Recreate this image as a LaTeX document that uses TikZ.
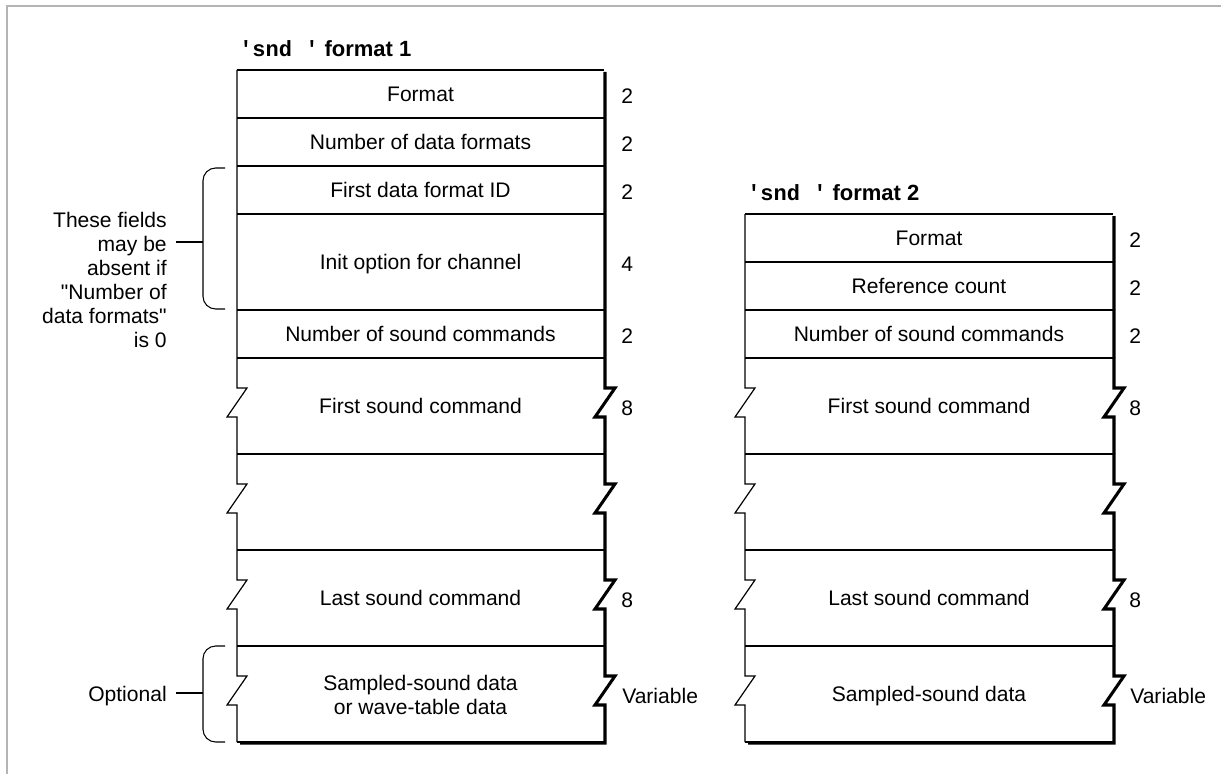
\documentclass[tikz,border=0pt]{standalone}
\usepackage{fontspec}
\setmainfont{Liberation Sans}[Ligatures=TeXOff]
\setmonofont{Liberation Mono}
\definecolor{framegray}{RGB}{180,180,180}
\begin{document}
\begin{tikzpicture}[x=0.75pt,y=-0.75pt,
  every node/.style={inner sep=0pt},
  txt/.style={font=\fontsize{15.8pt}{18pt}\selectfont, text height=11.3pt, text depth=0pt},
  celltext/.style={txt, anchor=center},
  numtext/.style={txt, anchor=west},
  ttltext/.style={font=\fontsize{16.5pt}{19pt}\selectfont\bfseries, anchor=west, text height=11.8pt, text depth=0pt},
  notetext/.style={font=\fontsize{15.8pt}{18pt}\selectfont, align=right, anchor=east},
  boxline/.style={line width=0.9pt, line join=miter},
  shadowline/.style={line width=2.3pt, line join=miter},
  bracel/.style={line width=0.8pt, rounded corners=9.5pt},
  frameline/.style={draw=framegray, line width=1.5pt}]
\useasboundingbox (0,0) rectangle (1221,774);
% frame
\draw[frameline] (6.5,774) -- (6.5,6.5) -- (1221,6.5);

% ---------------- left box ----------------
\node[ttltext] (t1) at (239,49) {{\ttfamily 'snd '} format 1};
\draw[boxline] (237,70) -- (604,70);
\foreach \yy in {118,166,214,310,358,454,550,646} \draw[boxline] (237,\yy) -- (604,\yy);
\draw[boxline] (237,742) -- (604,742);
\draw[boxline] (237,70) -- (237,388) -- ++(10,0) -- ++(-20,29) -- ++(10,0)
  -- (237,484) -- ++(10,0) -- ++(-20,29) -- ++(10,0)
  -- (237,580) -- ++(10,0) -- ++(-20,29) -- ++(10,0)
  -- (237,676) -- ++(10,0) -- ++(-20,29) -- ++(10,0) -- (237,742);
\draw[shadowline] (605,72) -- (605,388) -- ++(10,0) -- ++(-20,29) -- ++(10,0)
  -- (605,484) -- ++(10,0) -- ++(-20,29) -- ++(10,0)
  -- (605,580) -- ++(10,0) -- ++(-20,29) -- ++(10,0)
  -- (605,676) -- ++(10,0) -- ++(-20,29) -- ++(10,0) -- (605,743) -- (240,743);

\node[celltext] (a1) at (420.5,94) {Format};
\node[celltext] (a2) at (420.5,142) {Number of data formats};
\node[celltext] (a3) at (420.5,190) {First data format ID};
\node[celltext] (a4) at (420.5,262) {Init option for channel};
\node[celltext] (a5) at (420.5,334) {Number of sound commands};
\node[celltext] (a6) at (420.5,406) {First sound command};
\node[celltext] (a8) at (420.5,598) {Last sound command};
\node[font=\fontsize{15.8pt}{18pt}\selectfont, align=center] (a9) at (420.5,695) {Sampled-sound data\\or wave-table data};

\node[numtext] (n1) at (621,96) {2};
\node[numtext] (n2) at (621,144) {2};
\node[numtext] (n3) at (621,192) {2};
\node[numtext] (n4) at (621,264) {4};
\node[numtext] (n5) at (621,336) {2};
\node[numtext] (n6) at (621,408) {8};
\node[numtext] (n8) at (621,600) {8};
\node[numtext] (n9) at (622,696) {Variable};

% braces and notes
\draw[bracel] (225,168) -- (203,168) -- (203,309) -- (225,309);
\coordinate (b1) at (203,242);
\node[notetext] (note1) at (167,280) {These fields\\may be\\absent if\\"Number of\\data formats"\\is 0};
\draw[line width=0.8pt] (b1) -- ([xshift=6.75pt]b1 -| note1.east);

\draw[bracel] (225,646) -- (203,646) -- (203,742) -- (225,742);
\coordinate (b2) at (203,693);
\node[txt, anchor=east] (note2) at (167,694) {Optional};
\draw[line width=0.8pt] (b2) -- ([xshift=6.75pt]b2 -| note2.east);

% ---------------- right box ----------------
\node[ttltext] (t2) at (747,193) {{\ttfamily 'snd '} format 2};
\draw[boxline] (745,214) -- (1113,214);
\foreach \yy in {262,310,358,454,550,646} \draw[boxline] (745,\yy) -- (1113,\yy);
\draw[boxline] (745,742) -- (1113,742);
\draw[boxline] (745,214) -- (745,388) -- ++(10,0) -- ++(-20,29) -- ++(10,0)
  -- (745,484) -- ++(10,0) -- ++(-20,29) -- ++(10,0)
  -- (745,580) -- ++(10,0) -- ++(-20,29) -- ++(10,0)
  -- (745,676) -- ++(10,0) -- ++(-20,29) -- ++(10,0) -- (745,742);
\draw[shadowline] (1114,216) -- (1114,388) -- ++(10,0) -- ++(-20,29) -- ++(10,0)
  -- (1114,484) -- ++(10,0) -- ++(-20,29) -- ++(10,0)
  -- (1114,580) -- ++(10,0) -- ++(-20,29) -- ++(10,0)
  -- (1114,676) -- ++(10,0) -- ++(-20,29) -- ++(10,0) -- (1114,743) -- (748,743);

\node[celltext] (c1) at (929,238) {Format};
\node[celltext] (c2) at (929,286) {Reference count};
\node[celltext] (c3) at (929,334) {Number of sound commands};
\node[celltext] (c4) at (929,406) {First sound command};
\node[celltext] (c6) at (929,598) {Last sound command};
\node[celltext] (c7) at (929,694) {Sampled-sound data};

\node[numtext] (m1) at (1129,240) {2};
\node[numtext] (m2) at (1129,288) {2};
\node[numtext] (m3) at (1129,336) {2};
\node[numtext] (m4) at (1129,408) {8};
\node[numtext] (m6) at (1129,600) {8};
\node[numtext] (m7) at (1130,696) {Variable};
\end{tikzpicture}
\end{document}
